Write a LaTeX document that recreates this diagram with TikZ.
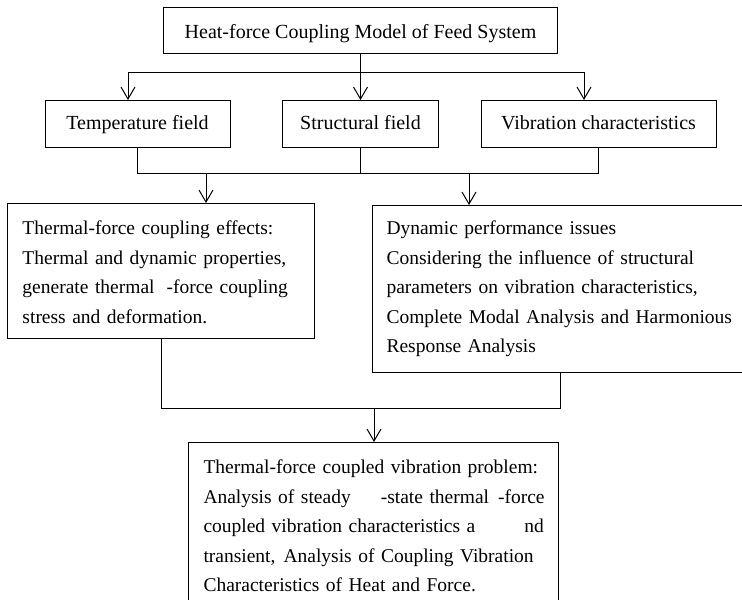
\documentclass[tikz,border=0pt]{standalone}
\usepackage{fontspec}
\setmainfont{Liberation Serif}
\usetikzlibrary{arrows.meta}
\begin{document}
\begin{tikzpicture}[x=1pt,y=-1pt,
  box/.style={draw, line width=1pt, inner ysep=0pt, font=\fontsize{20}{29.5}\selectfont},
  para/.style={box, align=left, anchor=north west, font=\fontsize{19.5}{29.5}\selectfont},
  conn/.style={line width=1pt},
  arr/.style={conn, -{Straight Barb[length=12pt,width=14pt]}}]
\useasboundingbox (0,0) rectangle (742,600);
% top
\node[box, anchor=north, minimum width=394pt, inner xsep=0pt, text height=31pt, text depth=15pt] (top) at (360.5,7) {Heat-force Coupling Model of Feed System};
% second row
\node[box, anchor=north, minimum width=185pt, text height=29pt, text depth=18pt] (temp) at (137.5,100) {Temperature field};
\node[box, anchor=north, minimum width=156pt, text height=29pt, text depth=18pt] (struct) at (360.5,100) {Structural field};
\node[box, anchor=north, minimum width=235pt, text height=29pt, text depth=18pt] (vib) at (598.5,100) {Vibration characteristics};
% third row
\node[para, inner xsep=15pt, text width=277pt, text height=31pt, text depth=104pt] (tfc) at (7,203)
{\mbox{Thermal-force coupling effects:}\\
 \mbox{Thermal and dynamic properties,}\\
 \mbox{generate thermal\hspace{12pt}-force coupling}\\
 \mbox{stress and deformation.}};
\node[para, inner xsep=14pt, text width=345pt, text height=29pt, text depth=138pt] (dyn) at (372,205)
{\mbox{Dynamic performance issues}\\
 \mbox{Considering the influence of structural}\\
 \mbox{parameters on vibration characteristics,}\\
 \mbox{Complete Modal Analysis and Harmonious}\\
 \mbox{Response Analysis}};
% bottom
\node[para, inner xsep=15pt, text width=340pt, text height=31pt, text depth=147pt] (res) at (188,442)
{\mbox{Thermal-force coupled vibration problem:}\\
 \mbox{Analysis of steady\hspace{30pt}-state thermal\hspace{9pt}-force}\\
 \mbox{coupled vibration characteristics a\hspace{49pt}nd}\\
 \mbox{transient,\hspace{8pt}Analysis of Coupling Vibration}\\
 \mbox{Characteristics of Heat and Force.}};
% connectors top -> row 2
\coordinate (hl) at (128,72);
\coordinate (hr) at (584,72);
\draw[arr] (top.south) -- (struct.north);
\draw[conn] (hl) -- (hr);
\draw[arr] (hl) -- (hl |- temp.north);
\draw[arr] (hr) -- (hr |- vib.north);
% row 2 -> row 3
\coordinate (ma) at (137.5,173);
\coordinate (mb) at (598.5,173);
\draw[conn] (temp.south) -- (ma) -- (mb) -- (vib.south);
\draw[conn] (struct.south) -- (struct.south |- ma);
\coordinate (al) at (206,173);
\coordinate (ar) at (469,173);
\draw[arr] (al) -- (al |- tfc.north);
\draw[arr] (ar) -- (ar |- dyn.north);
% row 3 -> bottom
\coordinate (ba) at (161,408);
\coordinate (bb) at (560,408);
\draw[conn] (tfc.south -| ba) -- (ba) -- (bb) -- (dyn.south -| bb);
\coordinate (ac) at (374,408);
\draw[arr] (ac) -- (ac |- res.north);
\end{tikzpicture}
\end{document}
